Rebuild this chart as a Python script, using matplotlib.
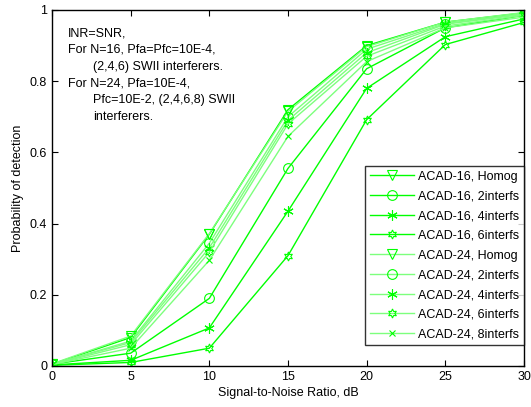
import matplotlib
matplotlib.use('Agg')
import matplotlib.pyplot as plt
from matplotlib.ticker import FormatStrFormatter

plt.rcParams['font.family'] = ['Liberation Sans', 'DejaVu Sans']

# SNR axis (dB)
snr = [0, 5, 10, 15, 20, 25, 30]

# detection probability
pd_16_homog = [0.005, 0.080, 0.370, 0.720, 0.900, 0.966, 0.992]
pd_16_2int = [0.005, 0.036, 0.190, 0.555, 0.835, 0.950, 0.985]
pd_16_4int = [0.003, 0.016, 0.107, 0.435, 0.780, 0.925, 0.975]
pd_16_6int = [0.002, 0.010, 0.050, 0.310, 0.692, 0.903, 0.965]
pd_24_homog = [0.006, 0.084, 0.372, 0.715, 0.897, 0.966, 0.993]
pd_24_2int = [0.005, 0.070, 0.345, 0.700, 0.890, 0.962, 0.990]
pd_24_4int = [0.005, 0.066, 0.332, 0.690, 0.880, 0.960, 0.988]
pd_24_6int = [0.004, 0.060, 0.320, 0.680, 0.870, 0.955, 0.985]
pd_24_8int = [0.004, 0.050, 0.297, 0.645, 0.855, 0.950, 0.980]

labels = ['ACAD-16, Homog', 'ACAD-16, 2interfs', 'ACAD-16, 4interfs', 'ACAD-16, 6interfs',
          'ACAD-24, Homog', 'ACAD-24, 2interfs', 'ACAD-24, 4interfs', 'ACAD-24, 6interfs',
          'ACAD-24, 8interfs']
series = [pd_16_homog, pd_16_2int, pd_16_4int, pd_16_6int,
          pd_24_homog, pd_24_2int, pd_24_4int, pd_24_6int, pd_24_8int]

asterisk = (6, 2, 0)
hexagram = (6, 1, 0)
markers = ['v', 'o', asterisk, hexagram, 'v', 'o', asterisk, hexagram, 'x']
msizes = [7.5, 7, 7.5, 6.5, 7.5, 7, 7.5, 6.5, 4.5]
bright = '#00ff00'
light = '#7dff7d'

fig = plt.figure(figsize=(5.31, 4.07), dpi=100)
ax = fig.add_axes([52 / 531, 41 / 407, 472 / 531, 356 / 407])

for i, (vals, lab) in enumerate(zip(series, labels)):
    line_c = bright if i < 4 else light
    ax.plot(snr, vals, color=line_c, lw=1.0, marker=markers[i], ms=msizes[i],
            mfc='none', mec=bright, mew=0.8, label=lab)

ax.set_xlim(0, 30)
ax.set_ylim(0, 1)
ax.set_xticks(snr)
ax.set_yticks([0, 0.2, 0.4, 0.6, 0.8, 1])
ax.yaxis.set_major_formatter(FormatStrFormatter('%g'))
ax.tick_params(direction='in', top=True, right=True, length=4, labelsize=9, width=0.8)
for s in ax.spines.values():
    s.set_linewidth(1.0)
ax.set_xlabel('Signal-to-Noise Ratio, dB', fontsize=9, labelpad=3)
ax.set_ylabel('Probability of detection', fontsize=9, labelpad=4)

# annotation block
note = [(0.034, 'INR=SNR,'),
        (0.034, 'For N=16, Pfa=Pfc=10E-4,'),
        (0.087, '(2,4,6) SWII interferers.'),
        (0.034, 'For N=24, Pfa=10E-4,'),
        (0.087, 'Pfc=10E-2, (2,4,6,8) SWII'),
        (0.087, 'interferers.')]
for k, (xx, txt) in enumerate(note):
    ax.text(xx, 0.935 - k * 0.047, txt, transform=ax.transAxes, fontsize=9,
            va='center', ha='left')

leg = ax.legend(loc='lower right', bbox_to_anchor=(1.0, 0.059), fontsize=9,
                frameon=True, fancybox=False, borderaxespad=0, handlelength=3.5,
                labelspacing=0.62, borderpad=0.35, handletextpad=0.4)
leg.get_frame().set_edgecolor('black')
leg.get_frame().set_linewidth(1.0)

fig.savefig('out.png', dpi=100)
